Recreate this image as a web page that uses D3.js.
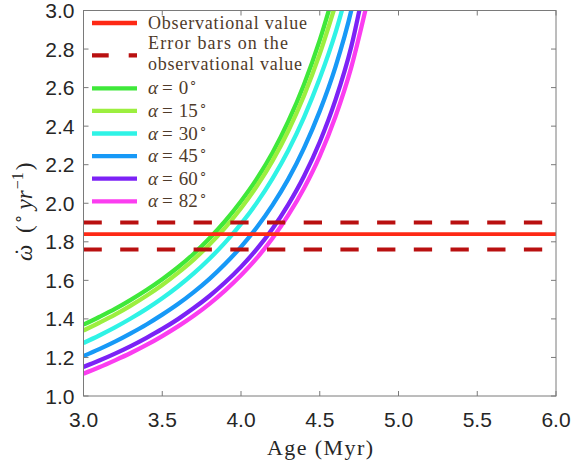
<!DOCTYPE html>
<html>
<head>
<meta charset="utf-8">
<script src="https://cdn.jsdelivr.net/npm/d3@7"></script>
<style>
  html, body { margin: 0; padding: 0; background: #fff; }
  svg { display: block; }
</style>
</head>
<body>
<svg id="chart" width="573" height="464"></svg>
<script>
// Precession rate of the orbit against age, for several inclinations alpha
const ages = [3.0, 3.1, 3.2, 3.3, 3.4, 3.5, 3.6, 3.7, 3.8, 3.9, 4.0, 4.1, 4.2, 4.3, 4.4, 4.5, 4.6, 4.7, 4.8];

const rateAlpha0  = [1.370, 1.410, 1.452, 1.499, 1.550, 1.606, 1.668, 1.738, 1.818, 1.908, 2.010, 2.126, 2.262, 2.424, 2.616, 2.846, 3.120];
const rateAlpha15 = [1.340, 1.380, 1.422, 1.469, 1.520, 1.576, 1.639, 1.708, 1.786, 1.874, 1.974, 2.088, 2.220, 2.375, 2.558, 2.775, 3.030];
const rateAlpha30 = [1.275, 1.314, 1.356, 1.402, 1.452, 1.507, 1.568, 1.636, 1.712, 1.797, 1.893, 2.002, 2.128, 2.274, 2.446, 2.648, 2.885, 3.180];
const rateAlpha45 = [1.207, 1.243, 1.282, 1.325, 1.371, 1.422, 1.477, 1.539, 1.608, 1.686, 1.774, 1.874, 1.990, 2.125, 2.286, 2.478, 2.708, 3.000, 3.405];
const rateAlpha60 = [1.151, 1.184, 1.220, 1.259, 1.302, 1.348, 1.399, 1.456, 1.519, 1.590, 1.670, 1.762, 1.868, 1.993, 2.140, 2.318, 2.536, 2.812, 3.196];
const rateAlpha82 = [1.116, 1.149, 1.185, 1.223, 1.265, 1.311, 1.361, 1.416, 1.478, 1.548, 1.626, 1.715, 1.818, 1.938, 2.078, 2.245, 2.450, 2.705, 3.037];

const alphaLabels = ["0", "15", "30", "45", "60", "82"];
const alphaColors = ["#3fe83a", "#9cef3f", "#2ff3e6", "#1799f7", "#7c22f6", "#fb3df0"];
const alphaSeries = [rateAlpha0, rateAlpha15, rateAlpha30, rateAlpha45, rateAlpha60, rateAlpha82];

// Observed rate with its error band
const observedRate = 1.84;
const observedUpper = 1.90;
const observedLower = 1.76;

const xTicks = [3.0, 3.5, 4.0, 4.5, 5.0, 5.5, 6.0];
const yTicks = [1.0, 1.2, 1.4, 1.6, 1.8, 2.0, 2.2, 2.4, 2.6, 2.8, 3.0];

const svg = d3.select("#chart");
const margin = { left: 83.5, right: 17, top: 10.5, bottom: 68 };
const W = 573, H = 464;
const x = d3.scaleLinear().domain([3, 6]).range([margin.left, W - margin.right]);
const y = d3.scaleLinear().domain([1, 3]).range([H - margin.bottom, margin.top]);

const axisColor = "#7a7a7a";
const tickTextColor = "#262626";
const legendTextColor = "#4f3b2a";
const serif = "'Liberation Serif', 'Times New Roman', serif";
const sans = "'Liberation Sans', Arial, Helvetica, sans-serif";

svg.append("defs").append("clipPath").attr("id", "plotClip")
  .append("rect")
  .attr("x", x(3)).attr("y", y(3))
  .attr("width", x(6) - x(3)).attr("height", y(1) - y(3));

const plot = svg.append("g").attr("clip-path", "url(#plotClip)");

// Model curves
const line = d3.line()
  .x((d, i) => x(ages[i]))
  .y(d => y(d))
  .curve(d3.curveMonotoneX);

alphaSeries.forEach((vals, k) => {
  plot.append("path")
    .datum(vals)
    .attr("d", line)
    .attr("fill", "none")
    .attr("stroke", alphaColors[k])
    .attr("stroke-width", 4.3);
});

// Observation and its error band
plot.append("line")
  .attr("x1", x(3)).attr("x2", x(6))
  .attr("y1", y(observedRate)).attr("y2", y(observedRate))
  .attr("stroke", "#fe2915").attr("stroke-width", 3.8);

[observedUpper, observedLower].forEach(v => {
  plot.append("line")
    .attr("x1", x(3)).attr("x2", x(6))
    .attr("y1", y(v)).attr("y2", y(v))
    .attr("stroke", "#b91010").attr("stroke-width", 4)
    .attr("stroke-dasharray", "18.3,18.4");
});

// Axes box with inward ticks on all four sides
const tickLen = 5;
const axes = svg.append("g");
axes.append("rect")
  .attr("x", x(3)).attr("y", y(3))
  .attr("width", x(6) - x(3)).attr("height", y(1) - y(3))
  .attr("fill", "none").attr("stroke", axisColor).attr("stroke-width", 1);

xTicks.forEach(t => {
  axes.append("line").attr("x1", x(t)).attr("x2", x(t))
    .attr("y1", y(1)).attr("y2", y(1) - tickLen).attr("stroke", axisColor);
  axes.append("line").attr("x1", x(t)).attr("x2", x(t))
    .attr("y1", y(3)).attr("y2", y(3) + tickLen).attr("stroke", axisColor);
  axes.append("text")
    .attr("x", x(t)).attr("y", y(1) + 31)
    .attr("text-anchor", "middle")
    .attr("font-family", sans).attr("font-size", 21)
    .attr("fill", tickTextColor)
    .text(d3.format(".1f")(t));
});

yTicks.forEach(t => {
  axes.append("line").attr("x1", x(3)).attr("x2", x(3) + tickLen)
    .attr("y1", y(t)).attr("y2", y(t)).attr("stroke", axisColor);
  axes.append("line").attr("x1", x(6)).attr("x2", x(6) - tickLen)
    .attr("y1", y(t)).attr("y2", y(t)).attr("stroke", axisColor);
  axes.append("text")
    .attr("x", x(3) - 9).attr("y", y(t) + 7.5)
    .attr("text-anchor", "end")
    .attr("font-family", sans).attr("font-size", 21)
    .attr("fill", tickTextColor)
    .text(d3.format(".1f")(t));
});

// Axis titles
svg.append("text")
  .attr("x", 320).attr("y", 455)
  .attr("text-anchor", "middle")
  .attr("font-family", serif).attr("font-size", 22)
  .attr("textLength", 106)
  .attr("fill", tickTextColor)
  .text("Age (Myr)");

const yTitle = svg.append("text")
  .attr("transform", "translate(32,261) rotate(-90)")
  .attr("text-anchor", "start")
  .attr("font-family", serif).attr("font-size", 23)
  .attr("fill", tickTextColor);
yTitle.append("tspan").attr("font-style", "italic").text("\u03C9");
yTitle.append("tspan").attr("dx", -11).attr("dy", -1).text("\u02D9");
yTitle.append("tspan").attr("dx", 15).attr("dy", 1).text("(");
yTitle.append("tspan").attr("font-size", 16).attr("dx", 1).attr("dy", -8).text("\u2218");
yTitle.append("tspan").attr("dx", 5).attr("dy", 8).attr("font-style", "italic").text("yr");
yTitle.append("tspan").attr("font-size", 16).attr("dx", 1).attr("dy", -9).text("\u2212");
yTitle.append("tspan").attr("font-size", 16).text("1");
yTitle.append("tspan").attr("dx", 2).attr("dy", 9).text(")");

// Legend
const legend = svg.append("g");
const lx1 = 92, lx2 = 137, tx = 148;

legend.append("line").attr("x1", lx1).attr("x2", lx2).attr("y1", 23).attr("y2", 23)
  .attr("stroke", "#fe2915").attr("stroke-width", 4.3);
legend.append("text").attr("x", tx).attr("y", 29)
  .attr("font-family", serif).attr("font-size", 18).attr("fill", legendTextColor)
  .attr("textLength", 159).text("Observational value");

legend.append("line").attr("x1", lx1).attr("x2", lx2).attr("y1", 55.3).attr("y2", 55.3)
  .attr("stroke", "#b91010").attr("stroke-width", 4.3)
  .attr("stroke-dasharray", "16.7,20");
legend.append("text").attr("x", tx).attr("y", 48.5)
  .attr("font-family", serif).attr("font-size", 18).attr("fill", legendTextColor)
  .attr("textLength", 140).text("Error bars on the");
legend.append("text").attr("x", tx).attr("y", 69.5)
  .attr("font-family", serif).attr("font-size", 18).attr("fill", legendTextColor)
  .attr("textLength", 154).text("observational value");

alphaLabels.forEach((lab, k) => {
  const cy = 88.3 + k * 22.6;
  legend.append("line").attr("x1", lx1).attr("x2", lx2).attr("y1", cy).attr("y2", cy)
    .attr("stroke", alphaColors[k]).attr("stroke-width", 4.3);
  const t = legend.append("text").attr("x", tx).attr("y", cy + 6)
    .attr("font-family", serif).attr("font-size", 19).attr("fill", legendTextColor);
  t.append("tspan").attr("font-style", "italic").text("\u03B1");
  t.append("tspan").attr("dx", 4).text("=");
  t.append("tspan").attr("dx", 6).text(lab);
  t.append("tspan").attr("font-size", 13).attr("dy", -8).attr("dx", 1).text("\u2218");
});
</script>
</body>
</html>
